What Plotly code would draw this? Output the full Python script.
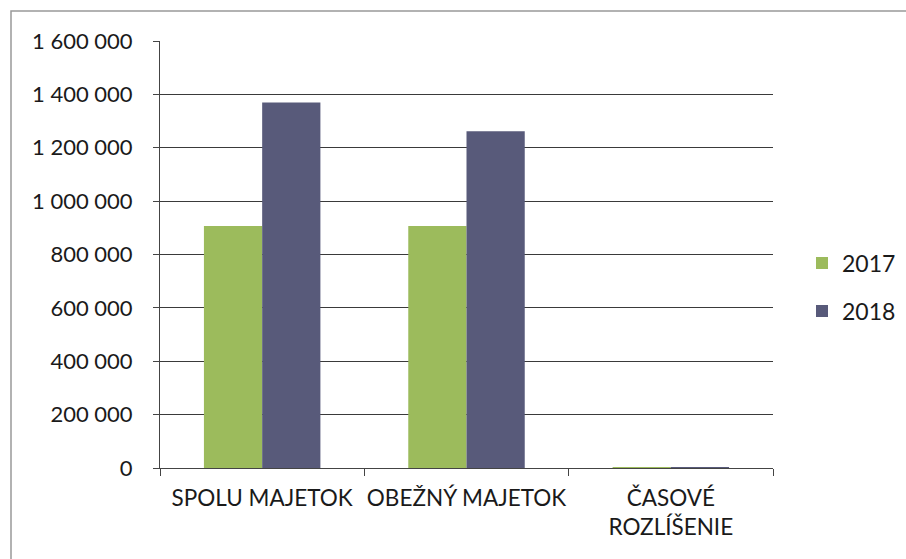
import plotly.graph_objects as go

categories = ["SPOLU MAJETOK", "OBEŽNÝ MAJETOK", "ČASOVÉ<br>ROZLÍŠENIE"]
values_2017 = [907000, 907000, 1500]
values_2018 = [1370000, 1262000, 1500]
series_names = ["2017", "2018"]
tick_vals = [0, 200000, 400000, 600000, 800000, 1000000, 1200000, 1400000, 1600000]

color_2017 = "#9cbb5c"
color_2018 = "#585a7a"
font_family = "Lato, 'Open Sans', sans-serif"
text_color = "#1a1a1a"

fig = go.Figure()
fig.add_trace(go.Bar(x=categories, y=values_2017, name=series_names[0],
                     marker=dict(color=color_2017, line=dict(width=0)), legend="legend"))
fig.add_trace(go.Bar(x=categories, y=values_2018, name=series_names[1],
                     marker=dict(color=color_2018, line=dict(width=0)), legend="legend2"))

W, H = 906, 559
L, R, T, B = 160, 133, 41, 91
pw, ph = W - L - R, H - T - B

def px(x):
    return (x - L) / pw

def py(y):
    return (H - B - y) / ph

fig.update_layout(
    width=W, height=H,
    margin=dict(l=L, r=R, t=T, b=B, pad=0, autoexpand=False),
    paper_bgcolor="white", plot_bgcolor="white",
    separators=". ",
    barmode="group", bargap=0.43, bargroupgap=0,
    font=dict(family=font_family, size=22, color=text_color),
    showlegend=True,
    legend=dict(x=px(802), y=py(263), xanchor="left", yanchor="middle",
                bgcolor="rgba(0,0,0,0)", font=dict(size=23), itemwidth=30),
    legend2=dict(x=px(802), y=py(311), xanchor="left", yanchor="middle",
                 bgcolor="rgba(0,0,0,0)", font=dict(size=23), itemwidth=30),
    xaxis=dict(showline=True, linecolor="#444", linewidth=1,
               ticks="outside", ticklen=7, tickcolor="#444",
               tickson="boundaries", showgrid=False, tickangle=0,
               automargin=False, ticklabelstandoff=10,
               tickfont=dict(size=22.5)),
    yaxis=dict(range=[0, 1600000], tickvals=tick_vals, tickformat=",d",
               showline=True, linecolor="#444", linewidth=1,
               ticks="outside", ticklen=6, tickcolor="#444",
               showgrid=True, gridcolor="#3a3a3a", gridwidth=1,
               zeroline=False, tickfont=dict(size=22), ticklabelstandoff=16,
               automargin=False),
    shapes=[dict(type="rect", xref="paper", yref="paper",
                 x0=px(11), x1=px(915), y0=py(11), y1=py(570),
                 line=dict(color="#999999", width=1.5), fillcolor="rgba(0,0,0,0)")],
)

fig.write_html("out.html",
               config={"displayModeBar": False},
               post_script="document.body.style.margin='0';document.body.style.overflow='hidden';")
